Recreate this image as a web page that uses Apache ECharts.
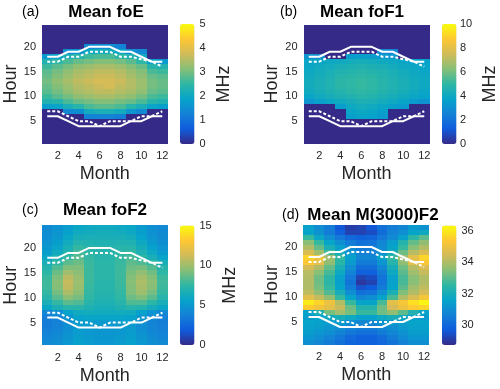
<!DOCTYPE html>
<html>
<head>
<meta charset="utf-8">
<script src="https://cdn.jsdelivr.net/npm/echarts@6/dist/echarts.min.js"></script>
<style>
  html, body { margin: 0; padding: 0; background: #fff; }
  #chart { width: 500px; height: 389px; }
</style>
</head>
<body>
<div id="chart"></div>
<script>
// axes
var months = [1, 2, 3, 4, 5, 6, 7, 8, 9, 10, 11, 12];
var hours = [1, 2, 3, 4, 5, 6, 7, 8, 9, 10, 11, 12, 13, 14, 15, 16, 17, 18, 19, 20, 21, 22, 23, 24];
var monthTicks = [2, 4, 6, 8, 10, 12];
var hourTicks = [5, 10, 15, 20];

// colorbar tick labels
var ticksFoE = [0, 1, 2, 3, 4, 5];
var ticksFoF1 = [0, 2, 4, 6, 8, 10];
var ticksFoF2 = [0, 5, 10, 15];
var ticksM3000 = [30, 32, 34, 36];

// sunrise / sunset curves (hour per month)
var sunsetSolid = [18, 18, 19, 19, 20, 20, 20, 19, 19, 18, 17, 17];
var sunsetDashed = [17, 17, 18, 18, 19, 19, 19, 18, 18, 17.5, 17, 16];
var sunriseSolid = [6, 6, 5, 4, 4, 4, 4, 4, 5, 5, 6, 6];
var sunriseDashed = [7, 7, 6, 5, 5, 4, 5, 5, 5, 6, 6, 7];

// rows = hour 1..24, columns = month 1..12
var foE = [
  [0, 0, 0, 0, 0, 0, 0, 0, 0, 0, 0, 0],
  [0, 0, 0, 0, 0, 0, 0, 0, 0, 0, 0, 0],
  [0, 0, 0, 0, 0, 0, 0, 0, 0, 0, 0, 0],
  [0, 0, 0, 0, 0, 0, 0, 0, 0, 0, 0, 0],
  [0, 0, 0, 0, 0, 0, 0, 0, 0, 0, 0, 0],
  [0, 0, 0, 0, 1.3, 1.3, 1.3, 1.2, 0, 0, 0, 0],
  [0, 0, 1.4, 1.5, 2.1, 2.2, 2.2, 2.1, 1.6, 1.4, 0, 0],
  [1.8, 1.9, 2.2, 2.4, 2.7, 2.8, 2.8, 2.7, 2.4, 2.2, 1.9, 1.8],
  [2.3, 2.4, 2.7, 2.9, 3.0, 3.1, 3.1, 3.0, 2.9, 2.7, 2.4, 2.3],
  [2.6, 2.8, 3.0, 3.2, 3.3, 3.4, 3.4, 3.3, 3.2, 3.0, 2.7, 2.6],
  [2.8, 3.0, 3.2, 3.4, 3.5, 3.6, 3.6, 3.5, 3.4, 3.2, 2.9, 2.8],
  [2.9, 3.1, 3.3, 3.5, 3.6, 3.7, 3.8, 3.6, 3.5, 3.3, 3.0, 2.9],
  [3.0, 3.2, 3.4, 3.6, 3.7, 3.8, 3.8, 3.7, 3.5, 3.3, 3.0, 2.9],
  [2.9, 3.1, 3.3, 3.5, 3.6, 3.7, 3.7, 3.6, 3.4, 3.2, 2.9, 2.8],
  [2.8, 3.0, 3.2, 3.4, 3.5, 3.6, 3.6, 3.5, 3.3, 3.1, 2.7, 2.6],
  [2.6, 2.8, 3.0, 3.2, 3.3, 3.4, 3.4, 3.3, 3.1, 2.9, 2.4, 2.3],
  [2.3, 2.5, 2.7, 2.9, 3.0, 3.1, 3.1, 3.0, 2.8, 2.5, 1.8, 1.7],
  [1.7, 1.9, 2.2, 2.4, 2.6, 2.7, 2.7, 2.5, 2.3, 2.0, 0, 0],
  [0, 0, 1.5, 1.6, 2.0, 2.1, 2.1, 1.9, 1.5, 1.4, 0, 0],
  [0, 0, 0, 0, 1.4, 1.5, 1.5, 1.3, 0, 0, 0, 0],
  [0, 0, 0, 0, 0, 0, 0, 0, 0, 0, 0, 0],
  [0, 0, 0, 0, 0, 0, 0, 0, 0, 0, 0, 0],
  [0, 0, 0, 0, 0, 0, 0, 0, 0, 0, 0, 0],
  [0, 0, 0, 0, 0, 0, 0, 0, 0, 0, 0, 0]
];

var foF1 = [
  [0, 0, 0, 0, 0, 0, 0, 0, 0, 0, 0, 0],
  [0, 0, 0, 0, 0, 0, 0, 0, 0, 0, 0, 0],
  [0, 0, 0, 0, 0, 0, 0, 0, 0, 0, 0, 0],
  [0, 0, 0, 0, 0, 0, 0, 0, 0, 0, 0, 0],
  [0, 0, 0, 0, 0, 0, 0, 0, 0, 0, 0, 0],
  [0, 0, 0, 0, 3.6, 3.8, 3.7, 3.4, 0, 0, 0, 0],
  [0, 0, 0, 0, 3.8, 4.0, 3.9, 3.6, 0, 0, 0, 0],
  [0, 0, 0, 3.5, 4.0, 4.2, 4.1, 3.9, 3.6, 3.4, 0, 0],
  [3.2, 3.6, 3.9, 4.1, 4.3, 4.5, 4.4, 4.2, 4.0, 3.8, 3.4, 3.1],
  [3.8, 4.1, 4.3, 4.5, 4.6, 4.8, 4.7, 4.5, 4.3, 4.1, 3.9, 3.7],
  [4.1, 4.3, 4.5, 4.7, 4.9, 5.0, 4.9, 4.7, 4.5, 4.3, 4.1, 3.9],
  [4.2, 4.4, 4.6, 4.9, 5.0, 5.1, 5.0, 4.8, 4.6, 4.4, 4.2, 4.0],
  [4.2, 4.4, 4.6, 4.9, 5.0, 5.1, 5.0, 4.8, 4.6, 4.4, 4.2, 4.0],
  [4.1, 4.3, 4.5, 4.8, 4.9, 5.0, 4.9, 4.7, 4.5, 4.3, 4.1, 4.0],
  [4.0, 4.2, 4.4, 4.6, 4.7, 4.8, 4.7, 4.6, 4.4, 4.2, 4.0, 3.9],
  [3.9, 4.1, 4.2, 4.4, 4.5, 4.6, 4.5, 4.4, 4.2, 4.0, 3.9, 3.8],
  [3.8, 3.9, 4.0, 4.1, 4.2, 4.3, 4.2, 4.1, 4.0, 3.9, 3.7, 3.7],
  [3.2, 3.0, 0, 0, 3.5, 3.6, 3.5, 3.4, 3.2, 0, 0, 0],
  [0, 0, 0, 0, 0, 0, 0, 2.8, 2.6, 0, 0, 0],
  [0, 0, 0, 0, 0, 0, 0, 0, 0, 0, 0, 0],
  [0, 0, 0, 0, 0, 0, 0, 0, 0, 0, 0, 0],
  [0, 0, 0, 0, 0, 0, 0, 0, 0, 0, 0, 0],
  [0, 0, 0, 0, 0, 0, 0, 0, 0, 0, 0, 0],
  [0, 0, 0, 0, 0, 0, 0, 0, 0, 0, 0, 0]
];

var foF2 = [
  [4.2, 4.5, 5.0, 5.5, 5.2, 5.0, 5.0, 5.2, 5.5, 5.0, 4.5, 4.2],
  [4.0, 4.3, 4.8, 5.3, 5.1, 4.9, 4.9, 5.1, 5.3, 4.8, 4.3, 4.0],
  [3.8, 4.1, 4.6, 5.2, 5.0, 4.9, 4.9, 5.0, 5.2, 4.6, 4.1, 3.8],
  [3.6, 3.9, 4.5, 5.1, 5.0, 4.9, 4.9, 5.0, 5.1, 4.5, 4.0, 3.7],
  [3.5, 3.8, 4.4, 5.2, 5.2, 5.1, 5.1, 5.2, 5.2, 4.5, 3.9, 3.6],
  [3.6, 4.0, 4.8, 5.6, 5.7, 5.7, 5.7, 5.7, 5.6, 4.8, 4.1, 3.7],
  [4.0, 4.6, 5.6, 6.2, 6.3, 6.2, 6.2, 6.3, 6.2, 5.5, 4.7, 4.1],
  [5.8, 6.6, 7.2, 7.2, 6.8, 6.5, 6.5, 6.8, 7.2, 7.0, 6.3, 5.8],
  [6.6, 7.6, 8.4, 8.2, 7.2, 6.8, 6.8, 7.2, 8.2, 8.2, 7.4, 6.5],
  [7.2, 8.4, 9.5, 9.0, 7.5, 7.0, 7.0, 7.5, 8.8, 9.2, 8.4, 7.2],
  [7.6, 9.0, 10.3, 9.5, 7.6, 7.1, 7.1, 7.6, 9.2, 9.9, 9.0, 7.6],
  [7.8, 9.3, 10.8, 9.8, 7.7, 7.2, 7.2, 7.7, 9.3, 10.2, 9.4, 7.8],
  [7.8, 9.4, 11.0, 9.9, 7.8, 7.2, 7.2, 7.8, 9.4, 10.3, 9.5, 7.9],
  [7.7, 9.2, 10.7, 9.8, 7.8, 7.3, 7.3, 7.8, 9.3, 10.1, 9.3, 7.8],
  [7.4, 8.8, 10.0, 9.5, 7.8, 7.3, 7.3, 7.8, 9.1, 9.6, 8.9, 7.5],
  [7.0, 8.2, 9.2, 9.2, 7.8, 7.3, 7.3, 7.8, 8.8, 9.0, 8.3, 7.1],
  [6.5, 7.5, 8.4, 8.8, 7.7, 7.3, 7.3, 7.7, 8.5, 8.2, 7.4, 6.5],
  [5.8, 6.8, 7.6, 8.4, 7.6, 7.2, 7.2, 7.6, 8.0, 7.4, 6.6, 5.7],
  [5.3, 6.2, 7.0, 8.0, 7.4, 7.1, 7.1, 7.4, 7.6, 6.8, 6.0, 5.1],
  [5.0, 5.7, 6.6, 7.6, 7.2, 7.0, 7.0, 7.2, 7.2, 6.4, 5.5, 4.8],
  [4.7, 5.3, 6.2, 7.0, 6.9, 6.8, 6.8, 6.9, 6.8, 6.0, 5.1, 4.5],
  [4.5, 5.0, 5.8, 6.5, 6.6, 6.6, 6.6, 6.6, 6.4, 5.6, 4.8, 4.3],
  [4.4, 4.8, 5.5, 6.1, 6.3, 6.4, 6.4, 6.3, 6.0, 5.3, 4.6, 4.2],
  [4.3, 4.7, 5.2, 5.8, 6.0, 6.1, 6.1, 6.0, 5.8, 5.1, 4.5, 4.2]
];

var m3000F2 = [
  [31.0, 30.8, 30.5, 30.2, 29.9, 29.8, 29.8, 30.0, 30.3, 30.7, 31.0, 31.0],
  [31.2, 31.0, 30.7, 30.4, 30.0, 29.8, 29.8, 30.1, 30.5, 30.9, 31.2, 31.2],
  [31.4, 31.2, 31.0, 30.7, 30.4, 30.2, 30.2, 30.5, 30.8, 31.1, 31.4, 31.4],
  [31.5, 31.4, 31.2, 31.0, 30.7, 30.5, 30.5, 30.8, 31.0, 31.3, 31.5, 31.5],
  [31.6, 31.5, 31.4, 31.3, 31.0, 30.8, 30.8, 31.1, 31.3, 31.4, 31.6, 31.6],
  [31.4, 31.6, 31.8, 32.0, 31.8, 31.5, 31.5, 31.8, 32.0, 31.8, 31.5, 31.3],
  [31.6, 32.2, 33.3, 33.8, 33.3, 32.6, 32.6, 33.2, 33.6, 33.0, 32.2, 31.6],
  [35.4, 35.1, 34.8, 34.3, 33.2, 32.3, 32.3, 33.2, 34.5, 35.0, 35.4, 35.6],
  [36.0, 35.6, 35.0, 34.0, 32.6, 31.6, 31.6, 32.8, 34.8, 35.2, 35.8, 36.2],
  [34.8, 34.3, 33.6, 32.6, 31.6, 30.8, 31.0, 31.6, 32.8, 34.0, 34.6, 35.2],
  [34.2, 33.6, 32.9, 32.0, 31.0, 30.2, 30.3, 31.0, 32.1, 33.4, 34.0, 34.5],
  [34.0, 33.3, 32.6, 31.6, 30.5, 29.5, 29.7, 30.5, 31.6, 33.0, 33.8, 34.2],
  [34.0, 33.2, 32.5, 31.5, 30.3, 29.0, 29.2, 30.3, 31.5, 32.8, 33.5, 34.0],
  [34.0, 33.2, 32.5, 31.5, 30.4, 29.2, 29.4, 30.3, 31.5, 32.8, 33.5, 34.0],
  [34.1, 33.5, 32.8, 31.8, 30.7, 29.8, 29.8, 30.5, 31.8, 33.0, 33.8, 34.3],
  [34.5, 34.0, 33.1, 32.1, 31.0, 30.1, 30.1, 30.8, 32.0, 33.2, 34.1, 34.6],
  [35.3, 34.8, 33.6, 32.4, 31.3, 30.5, 30.5, 31.2, 32.4, 33.6, 34.8, 35.3],
  [35.6, 35.1, 33.8, 32.6, 31.5, 30.8, 30.8, 31.5, 32.6, 33.8, 34.8, 35.6],
  [34.6, 33.8, 32.7, 32.0, 31.2, 30.6, 30.6, 31.1, 32.0, 33.2, 34.1, 34.6],
  [34.0, 33.1, 32.1, 31.5, 30.9, 30.5, 30.5, 30.9, 31.6, 32.6, 33.5, 34.0],
  [33.5, 32.6, 31.6, 31.0, 30.5, 30.2, 30.3, 30.8, 31.4, 32.3, 33.1, 33.6],
  [32.6, 31.7, 31.0, 30.4, 30.0, 29.8, 29.9, 30.4, 30.9, 31.5, 32.5, 33.0],
  [31.6, 31.1, 30.5, 29.8, 29.2, 29.2, 29.4, 30.1, 30.7, 31.0, 31.6, 31.8],
  [31.5, 31.0, 30.5, 29.6, 29.1, 29.2, 29.6, 30.2, 30.5, 30.8, 31.3, 31.1]
];

// parula colormap
var parula = ['#352a87', '#0f5cdd', '#1481d6', '#06a4ca', '#2eb7a4', '#87bf77', '#d1bb59', '#fec832', '#f9fb0e'];
var font = '"Liberation Sans", Arial, sans-serif';
var ink = '#262626';

var panels = [
  { tag: '(a)', title: 'Mean foE', grid: foE, min: 0, max: 5, ticks: ticksFoE, unit: 'MHz', unitGap: 21,
    plot: [42, 24.5, 125.5, 119], bar: [180, 24, 14.5, 120], tagX: 22, titleX: 106, titleY: 12 },
  { tag: '(b)', title: 'Mean foF1', grid: foF1, min: 0, max: 10, ticks: ticksFoF1, unit: 'MHz', unitGap: 26,
    plot: [303.5, 24.5, 126, 119], bar: [442, 24, 14.5, 120], tagX: 280, titleX: 362, titleY: 12 },
  { tag: '(c)', title: 'Mean foF2', grid: foF2, min: 0, max: 15, ticks: ticksFoF2, unit: 'MHz', unitGap: 27,
    plot: [42, 225.5, 125.7, 119.5], bar: [180, 225.5, 14.5, 119.5], tagX: 22, titleX: 105, titleY: 210 },
  { tag: '(d)', title: 'Mean M(3000)F2', grid: m3000F2, min: 28.73, max: 36.32, ticks: ticksM3000, unit: '', unitGap: 24,
    plot: [303.3, 224.5, 126, 120], bar: [442, 225.5, 14.5, 119.5], tagX: 282, titleX: 373, titleY: 215 }
];

var chart = echarts.init(document.getElementById('chart'));

var grids = [], xAxes = [], yAxes = [], series = [], visualMaps = [], texts = [];
var labelStyle = { color: ink, fontSize: 11, fontFamily: font };
var nameStyle = { color: ink, fontSize: 18, fontFamily: font };

// one image cell, edges snapped to whole pixels so neighbours meet exactly
function renderCell(params, api) {
  var lo = api.coord([api.value(0) - 0.5, api.value(1) - 0.5]);
  var hi = api.coord([api.value(0) + 0.5, api.value(1) + 0.5]);
  var x0 = Math.round(lo[0]), x1 = Math.round(hi[0]);
  var y0 = Math.round(hi[1]), y1 = Math.round(lo[1]);
  return {
    type: 'rect',
    shape: { x: x0, y: y0, width: x1 - x0, height: y1 - y0 },
    style: { fill: api.visual('color'), stroke: null, lineWidth: 0 }
  };
}

panels.forEach(function (p, i) {
  grids.push({ left: p.plot[0], top: p.plot[1], width: p.plot[2], height: p.plot[3] });

  xAxes.push({
    type: 'value', gridIndex: i, min: 0.5, max: 12.5,
    axisLabel: Object.assign({ customValues: monthTicks, margin: 7 }, labelStyle),
    axisTick: { show: false }, splitLine: { show: false }, axisLine: { show: false },
    name: 'Month', nameLocation: 'middle', nameGap: 22, nameTextStyle: nameStyle
  });
  yAxes.push({
    type: 'value', gridIndex: i, min: 0.5, max: 24.5,
    axisLabel: Object.assign({ customValues: hourTicks, margin: 6 }, labelStyle),
    axisTick: { show: false }, splitLine: { show: false }, axisLine: { show: false },
    name: 'Hour', nameLocation: 'middle', nameGap: 20, nameRotate: 90, nameTextStyle: nameStyle
  });

  var cells = [];
  p.grid.forEach(function (row, h) {
    row.forEach(function (v, m) { cells.push([months[m], hours[h], v]); });
  });
  visualMaps.push({
    type: 'continuous', seriesIndex: series.length, dimension: 2, min: p.min, max: p.max,
    inRange: { color: parula }, calculable: false, hoverLink: false, realtime: false,
    orient: 'vertical', left: p.bar[0], top: p.bar[1], itemWidth: p.bar[2], itemHeight: p.bar[3],
    padding: 0, text: null
  });
  series.push({
    type: 'custom', xAxisIndex: i, yAxisIndex: i, data: cells,
    renderItem: renderCell, silent: true
  });

  [[sunsetSolid, 'solid'], [sunriseSolid, 'solid'], [sunsetDashed, [3, 2]], [sunriseDashed, [3, 2]]].forEach(function (c) {
    series.push({
      type: 'line', xAxisIndex: i, yAxisIndex: i, z: 5, silent: true,
      data: months.map(function (m, k) { return [m, c[0][k]]; }),
      symbol: 'none', lineStyle: { color: '#fff', width: 2, type: c[1] }
    });
  });

  texts.push({ type: 'text', x: p.tagX, y: p.titleY,
    style: { text: p.tag, font: '14px ' + font, fill: '#000', align: 'left', verticalAlign: 'middle' } });
  texts.push({ type: 'text', x: p.titleX, y: p.titleY,
    style: { text: p.title, font: 'bold 17px ' + font, fill: '#000', align: 'center', verticalAlign: 'middle' } });
});

// colorbar axes
panels.forEach(function (p, i) {
  grids.push({ left: p.bar[0], top: p.bar[1], width: p.bar[2], height: p.bar[3] });
  xAxes.push({ type: 'value', gridIndex: 4 + i, show: false, min: 0, max: 1 });
  yAxes.push({
    type: 'value', gridIndex: 4 + i, position: 'right', min: p.min, max: p.max,
    axisLabel: Object.assign({ customValues: p.ticks, margin: 5 }, labelStyle),
    axisTick: { show: false }, splitLine: { show: false }, axisLine: { show: false },
    name: p.unit, nameLocation: 'middle', nameRotate: 90, nameGap: p.unitGap, nameTextStyle: nameStyle
  });
});

chart.setOption({
  animation: false,
  grid: grids,
  xAxis: xAxes,
  yAxis: yAxes,
  visualMap: visualMaps,
  series: series,
  graphic: texts
});
</script>
</body>
</html>
